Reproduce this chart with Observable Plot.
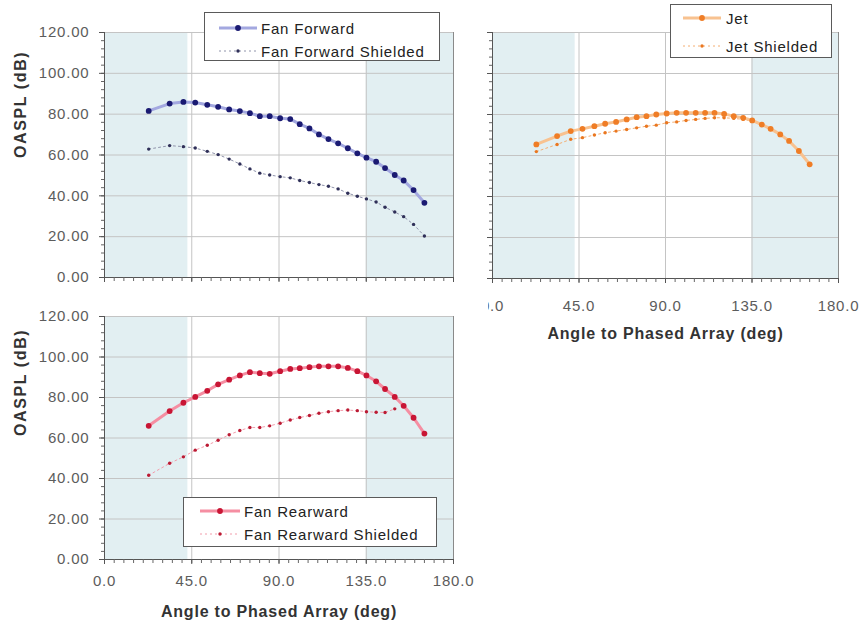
<!DOCTYPE html>
<html>
<head>
<meta charset="utf-8">
<script src="https://cdn.jsdelivr.net/npm/d3@7"></script>
<script src="https://cdn.jsdelivr.net/npm/@observablehq/plot@0.6"></script>
<style>
  body { margin: 0; background: #fff; }
  #wrap { position: relative; width: 867px; height: 630px; overflow: hidden;
          font-family: "Liberation Sans", Arial, sans-serif; background: #fff; }
  #wrap > svg { position: absolute; }
  .legend { position: absolute; background: #fff; border: 1px solid #5a5a5a; box-sizing: border-box; }
  .legend .row { position: absolute; left: 0; height: 20px; display: flex; align-items: center; }
  .legend .row span { font-size: 15px; letter-spacing: 0.8px; color: #222; white-space: nowrap; }
  .legend svg { display: block; }
</style>
</head>
<body>
<div id="wrap"></div>
<script>
// Measurement stations (angle to phased array, deg)
const angles = [22.8, 33.6, 40.7, 46.8, 53.0, 58.6, 64.3, 69.8, 75.0, 80.1, 85.2, 90.6, 95.8, 100.7,
                105.7, 110.6, 115.5, 120.5, 125.5, 130.4, 135.1, 140.1, 144.7, 149.7, 154.3, 159.4, 165.0];

// OASPL (dB) per source
const fanForward = [81.6, 85.2, 86.0, 85.7, 84.6, 83.6, 82.3, 81.5, 80.5, 79.0, 79.0, 78.0, 77.6, 75.1,
                    73.0, 70.1, 67.8, 65.7, 63.3, 60.8, 58.7, 56.7, 53.6, 50.2, 47.5, 42.8, 36.6];
const fanForwardShielded = [62.9, 64.6, 64.1, 63.4, 61.8, 60.2, 58.0, 55.6, 53.2, 51.1, 50.2, 49.4, 48.8, 47.5,
                            46.5, 45.5, 44.7, 43.4, 41.3, 39.8, 38.5, 37.0, 34.4, 32.1, 29.8, 26.0, 20.3];
const jet = [65.4, 69.5, 71.9, 73.0, 74.3, 75.5, 76.4, 77.6, 78.7, 79.2, 80.0, 80.5, 80.8, 80.8,
             80.8, 80.8, 80.8, 80.3, 79.2, 78.4, 77.1, 75.1, 73.0, 70.3, 67.1, 62.2, 55.7];
const jetShielded = [61.9, 65.4, 67.9, 68.7, 70.0, 71.1, 71.9, 72.7, 73.5, 74.3, 74.8, 76.0, 76.4, 77.1,
                     77.6, 78.1, 78.4, 78.4, 78.1, 77.6, 76.8, 74.8, 72.7, 70.0];
const fanRearward = [66.0, 73.3, 77.4, 80.3, 83.3, 86.5, 88.8, 90.9, 92.5, 92.0, 91.7, 93.0, 94.1, 94.5,
                     95.0, 95.4, 95.4, 95.4, 94.6, 93.0, 90.9, 88.0, 84.2, 80.3, 75.9, 70.0, 62.2];
const fanRearwardShielded = [41.6, 47.5, 50.7, 54.0, 56.4, 58.9, 61.6, 63.7, 65.2, 65.2, 66.0, 67.3, 68.9, 70.1,
                             71.1, 72.2, 73.0, 73.5, 73.8, 73.5, 73.0, 72.7, 72.6, 74.4];

// Axis ticks and shaded angular sectors
const xMajorTicks = [0, 45, 90, 135, 180];
const xMinorTicks = d3.range(0, 181, 5);
const xGridTicks = [45, 90, 135];
const yMajorTicks = [0, 20, 40, 60, 80, 100, 120];
const yMinorTicks = d3.range(0, 121, 4);
const sectorStart = [0, 135];
const sectorEnd = [43, 180];

const xTitle = "Angle to Phased Array (deg)";
const yTitle = "OASPL (dB)";

const rows = (values) => values.map((v, i) => ({angle: angles[i], value: v}));
const sectors = sectorStart.map((s, i) => ({from: s, to: sectorEnd[i]}));

// Visual styles for a measured series and its shielded counterpart
const styles = {
  fanForward:  {main: {line: "#a3a8e0", lw: 3, dot: "#1a1a72", r: 2.9},
                shield: {line: "#9094ab", lw: 1, dash: "2,3", dot: "#2f2f58", r: 1.7}},
  jet:         {main: {line: "#f8c290", lw: 3, dot: "#ef7d26", r: 2.9},
                shield: {line: "#f4ae72", lw: 1, dash: "2,3", dot: "#ea7720", r: 1.7}},
  fanRearward: {main: {line: "#f58ea2", lw: 3, dot: "#c81534", r: 2.9},
                shield: {line: "#f29cab", lw: 1, dash: "2,3", dot: "#bb1a33", r: 1.7}}
};

function seriesMarks(values, s) {
  const data = rows(values);
  return [
    Plot.line(data, {x: "angle", y: "value", stroke: s.line, strokeWidth: s.lw,
                     strokeDasharray: s.dash || null}),
    Plot.dot(data, {x: "angle", y: "value", r: s.r, fill: s.dot, stroke: "none"})
  ];
}

function panel(cfg) {
  const marks = [
    Plot.rect(sectors, {x1: "from", x2: "to", y1: () => 0, y2: () => 120, fill: "#e2eff2"}),
    Plot.gridY(yMajorTicks.slice(1), {stroke: "#c4c4c4", strokeOpacity: 1}),
    Plot.gridX(xGridTicks, {stroke: "#c4c4c4", strokeOpacity: 1}),
    Plot.ruleX([180], {stroke: "#8a8a8a"}),
    ...seriesMarks(cfg.shielded, cfg.style.shield),
    ...seriesMarks(cfg.main, cfg.style.main),
    Plot.ruleX([0], {stroke: "#555"}),
    Plot.ruleY([0], {stroke: "#555"}),
    Plot.axisY(yMinorTicks, {tickSize: 3, tickFormat: () => "", stroke: "#666", label: null}),
    Plot.axisY(yMajorTicks, {tickSize: 5, tickPadding: 10, stroke: "#555", fill: "#5c5c5c",
                             tickFormat: cfg.yLabels ? (d) => d.toFixed(2) : () => "", label: null}),
    Plot.axisX(xMinorTicks, {tickSize: 4, tickFormat: () => "", stroke: "#666", label: null}),
    Plot.axisX(xMajorTicks, {tickSize: 5, tickPadding: cfg.xPad || 11, stroke: "#555", fill: "#5c5c5c",
                             tickFormat: cfg.xLabels ? (d) => d.toFixed(1) : () => "", label: null})
  ];
  if (cfg.xLabels) {
    marks.push(Plot.text([xTitle], {text: (d) => d, frameAnchor: "bottom", dy: cfg.xTitleDy,
                                    fontWeight: "bold", fontSize: 16, fill: "#333"}));
  }
  if (cfg.yLabels) {
    marks.push(Plot.text([yTitle], {text: (d) => d, frameAnchor: "left", dx: -84, dy: cfg.yTitleDy || 0,
                                    rotate: -90, fontWeight: "bold", fontSize: 16, fill: "#333"}));
  }
  const svg = Plot.plot({
    width: cfg.width, height: cfg.height,
    marginLeft: cfg.ml, marginRight: cfg.mr, marginTop: cfg.mt, marginBottom: cfg.mb,
    x: {domain: [0, 180], label: null},
    y: {domain: [0, 120], label: null},
    style: {background: "#fff", fontFamily: "'Liberation Sans', Arial, sans-serif", fontSize: "15px",
            letterSpacing: "0.8px", maxWidth: "none"},
    marks
  });
  d3.select(svg).selectAll("text").filter(function () { return this.textContent === yTitle; })
    .style("letter-spacing", "1.6px");
  svg.style.left = cfg.left + "px";
  svg.style.top = cfg.top + "px";
  return svg;
}

function legend(cfg) {
  const box = document.createElement("div");
  box.className = "legend";
  Object.assign(box.style, {left: cfg.left + "px", top: cfg.top + "px",
                            width: cfg.width + "px", height: cfg.height + "px"});
  cfg.items.forEach((item, i) => {
    const row = document.createElement("div");
    row.className = "row";
    row.style.top = (cfg.rowTop[i] - 10) + "px";
    row.style.left = cfg.sampleLeft + "px";
    const sw = d3.create("svg").attr("width", cfg.sampleWidth).attr("height", 20);
    sw.append("line").attr("x1", 0).attr("x2", cfg.sampleWidth).attr("y1", 10).attr("y2", 10)
      .attr("stroke", item.s.line).attr("stroke-width", item.s.lw)
      .attr("stroke-dasharray", item.s.dash || null);
    sw.append("circle").attr("cx", cfg.sampleWidth / 2).attr("cy", 10).attr("r", item.s.r)
      .attr("fill", item.s.dot);
    row.appendChild(sw.node());
    const label = document.createElement("span");
    label.textContent = item.label;
    label.style.marginLeft = cfg.gap + "px";
    row.appendChild(label);
    box.appendChild(row);
  });
  return box;
}

const wrap = document.getElementById("wrap");

// Jet (top right) first, so the neighbouring panels sit over its edges
wrap.appendChild(panel({left: 440, top: 0, width: 427, height: 350, ml: 52, mr: 29, mt: 32, mb: 72,
  main: jet, shielded: jetShielded, style: styles.jet, xLabels: true, yLabels: false,
  xPad: 17, xTitleDy: 60}));
wrap.appendChild(panel({left: 0, top: 0, width: 487, height: 288, ml: 104, mr: 34, mt: 32, mb: 11,
  main: fanForward, shielded: fanForwardShielded, style: styles.fanForward, xLabels: false, yLabels: true,
  yTitleDy: 3}));
wrap.appendChild(panel({left: 0, top: 290, width: 488, height: 340, ml: 104, mr: 35, mt: 26, mb: 71,
  main: fanRearward, shielded: fanRearwardShielded, style: styles.fanRearward, xLabels: true, yLabels: true,
  xPad: 11, xTitleDy: 57, yTitleDy: -2}));

wrap.appendChild(legend({left: 204, top: 12, width: 236, height: 49, rowTop: [15, 38],
  sampleLeft: 14, sampleWidth: 38, gap: 4, items: [
    {label: "Fan Forward", s: styles.fanForward.main},
    {label: "Fan Forward Shielded", s: styles.fanForward.shield}]}));
wrap.appendChild(legend({left: 670, top: 4, width: 162, height: 54, rowTop: [13, 41],
  sampleLeft: 12, sampleWidth: 38, gap: 5, items: [
    {label: "Jet", s: styles.jet.main},
    {label: "Jet Shielded", s: styles.jet.shield}]}));
wrap.appendChild(legend({left: 183, top: 497, width: 254, height: 50, rowTop: [13, 36],
  sampleLeft: 16, sampleWidth: 40, gap: 4, items: [
    {label: "Fan Rearward", s: styles.fanRearward.main},
    {label: "Fan Rearward Shielded", s: styles.fanRearward.shield}]}));
</script>
</body>
</html>
